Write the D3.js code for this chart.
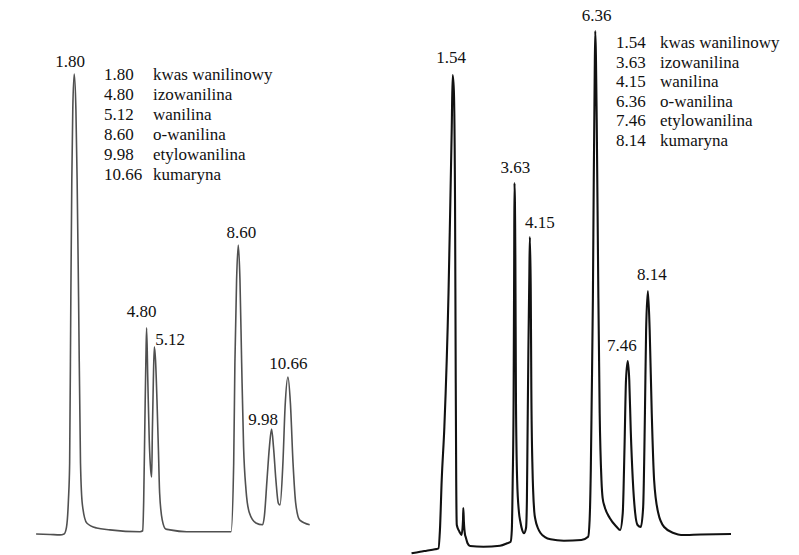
<!DOCTYPE html>
<html>
<head>
<meta charset="utf-8">
<script src="https://cdn.jsdelivr.net/npm/d3@7/dist/d3.min.js"></script>
<style>
  html, body { margin: 0; padding: 0; background: #fff; }
  svg { display: block; }
</style>
</head>
<body>
<svg id="chart" width="799" height="555"></svg>
<script>
// Chromatogram A: retention times (min) and compound names
const peakTimesA = [1.80, 4.80, 5.12, 8.60, 9.98, 10.66];
const compoundsA = ["kwas wanilinowy", "izowanilina", "wanilina", "o-wanilina", "etylowanilina", "kumaryna"];

// Chromatogram A: detector trace, time (min) and relative signal
const traceTimeA = [0.22, 0.80, 1.21, 1.38, 1.48, 1.56, 1.61, 1.66, 1.70, 1.74, 1.80, 1.87, 1.92, 1.98, 2.06, 2.14, 2.32, 2.73, 3.28, 4.53,
  4.64, 4.68, 4.73, 4.77, 4.80, 4.85, 4.91, 4.97, 5.01, 5.04, 5.08, 5.12, 5.17, 5.23, 5.29, 5.34, 5.45, 5.59, 5.77, 6.46, 7.55,
  8.30, 8.41, 8.46, 8.53, 8.60, 8.67, 8.74, 8.82, 8.92, 9.06, 9.33, 9.61, 9.68, 9.79, 9.89, 9.98, 10.06, 10.16, 10.26, 10.33,
  10.45, 10.54, 10.66, 10.76, 10.87, 10.98, 11.15, 11.56];
const traceSignalA = [0, -0.1, -0.2, 0, 1.5, 7.4, 15.4, 51.5, 77.0, 92.2, 100, 92.2, 77.0, 51.5, 15.4, 6.3, 2.4, 1.3, 0.9, 0.5,
  0.7, 7.4, 24.8, 37.8, 44.8, 33.5, 20.4, 13.9, 12.4, 22.6, 33.5, 40.7, 37.8, 29.1, 18.3, 8.9, 3.0, 1.1, 0.9, 0.5, 0.5,
  0.5, 15.4, 37.2, 55.2, 62.8, 55.2, 37.2, 18.9, 9.6, 4.6, 2.4, 2.0, 3.8, 11.7, 18.9, 22.8, 18.9, 11.7, 6.7, 6.3,
  15.4, 27.6, 34.1, 28.5, 15.4, 6.7, 3.0, 2.0];

// Chromatogram B: retention times (min) and compound names
const peakTimesB = [1.54, 3.63, 4.15, 6.36, 7.46, 8.14];
const compoundsB = ["kwas wanilinowy", "izowanilina", "wanilina", "o-wanilina", "etylowanilina", "kumaryna"];

// Chromatogram B: detector trace, time (min) and relative signal
const traceTimeB = [0.15, 0.44, 0.66, 0.94, 1.06, 1.11, 1.17, 1.26, 1.40, 1.45, 1.51, 1.54, 1.58, 1.62, 1.64, 1.66, 1.68,
  1.77, 1.84, 1.89, 1.90, 1.92, 1.96, 1.98, 2.04, 2.13, 2.58, 3.14, 3.38, 3.50,
  3.54, 3.57, 3.60, 3.62, 3.63, 3.66, 3.68, 3.72, 3.78, 3.83, 3.89, 3.95,
  4.02, 4.05, 4.07, 4.10, 4.13, 4.15, 4.18, 4.20, 4.24, 4.26, 4.30, 4.34, 4.42, 4.51, 4.66, 4.85, 5.30, 5.89,
  6.12, 6.17, 6.21, 6.24, 6.28, 6.31, 6.34, 6.36, 6.41, 6.46, 6.51, 6.57, 6.61, 6.68, 6.85, 7.08,
  7.20, 7.29, 7.35, 7.40, 7.46, 7.51, 7.56, 7.63, 7.71, 7.79, 7.90,
  7.98, 8.04, 8.08, 8.14, 8.20, 8.27, 8.35, 8.49, 8.69, 9.03, 9.26, 9.93, 10.95];
const traceSignalB = [-0.64, -0.33, -0.13, 0.13, 0.33, 3.85, 13.49, 23.76, 49.52, 63.58, 81.56, 91.52, 88.63, 67.44, 38.54, 13.49, 4.82,
  3.53, 2.89, 5.78, 8.09, 5.39, 2.89, 2.50, 1.35, 0.77, 0.64, 0.83, 1.29, 1.60,
  3.85, 13.49, 28.90, 55.88, 70.71, 55.88, 28.90, 13.49, 7.32, 5.39, 3.85, 3.22,
  4.24, 9.63, 21.19, 38.54, 52.02, 60.31, 50.10, 30.83, 15.41, 11.56, 7.32, 5.78, 4.24, 3.28, 2.50, 2.06, 1.79, 1.93,
  2.56, 5.78, 15.41, 28.90, 48.17, 71.29, 90.56, 100, 82.85, 52.02, 26.40, 13.49, 10.02, 8.29, 6.17, 4.49,
  3.85, 7.13, 19.85, 32.76, 36.42, 32.76, 23.12, 13.49, 7.13, 4.82, 4.43,
  8.29, 26.40, 42.39, 49.90, 42.39, 26.40, 13.49, 7.13, 4.43, 3.22, 2.89, 2.99, 3.08];

const FONT = "'Liberation Serif', 'Times New Roman', 'DejaVu Serif', serif";
const svg = d3.select("#chart");

function drawPanel(cfg) {
  const x = d3.scaleLinear().domain(cfg.timeDomain).range(cfg.xRange);
  const y = d3.scaleLinear().domain([0, 100]).range(cfg.yRange);
  const g = svg.append("g");

  const points = cfg.times.map((t, i) => [t, cfg.signal[i]]);
  const line = d3.line()
    .x(d => x(d[0]))
    .y(d => y(d[1]))
    .curve(d3.curveMonotoneX);

  g.append("path")
    .datum(points)
    .attr("d", line)
    .attr("fill", "none")
    .attr("stroke", cfg.stroke)
    .attr("stroke-width", cfg.strokeWidth)
    .attr("stroke-linejoin", "round");

  // retention time labels above each peak
  const apexSignal = t => cfg.signal[cfg.times.indexOf(t)];
  g.selectAll("text.peak")
    .data(cfg.peaks)
    .join("text")
    .attr("class", "peak")
    .attr("x", (t, i) => x(t) + cfg.labelOffsets[i][0])
    .attr("y", (t, i) => y(apexSignal(t)) + cfg.labelOffsets[i][1])
    .attr("text-anchor", (t, i) => cfg.labelOffsets[i][2])
    .attr("font-family", FONT)
    .attr("font-size", 17)
    .attr("fill", "#111")
    .text(t => t.toFixed(2));

  // legend: retention time and compound name
  const legend = g.append("g").attr("transform", `translate(${cfg.legendX},${cfg.legendY})`);
  cfg.peaks.forEach((t, i) => {
    legend.append("text")
      .attr("x", 0).attr("y", i * cfg.legendStep)
      .attr("font-family", FONT)
      .attr("font-size", 17)
      .attr("fill", "#111")
      .text(t.toFixed(2));
    legend.append("text")
      .attr("x", cfg.nameX).attr("y", i * cfg.legendStep)
      .attr("font-family", FONT)
      .attr("font-size", 17)
      .attr("fill", "#111")
      .text(cfg.names[i]);
  });
}

drawPanel({
  times: traceTimeA, signal: traceSignalA, peaks: peakTimesA, names: compoundsA,
  timeDomain: [0, 12], xRange: [30.8, 320.3], yRange: [534, 74],
  stroke: "#505050", strokeWidth: 1.6,
  labelOffsets: [[-4, -7, "middle"], [-5, -11, "middle"], [1, -2, "start"],
                 [3, -7, "middle"], [6.5, -4, "end"], [0.5, -8, "middle"]],
  legendX: 104, legendY: 80, legendStep: 20, nameX: 49
});

drawPanel({
  times: traceTimeB, signal: traceSignalB, peaks: peakTimesB, names: compoundsB,
  timeDomain: [0, 11], xRange: [407.1, 732.5], yRange: [550, 31],
  stroke: "#111", strokeWidth: 2.1,
  labelOffsets: [[-1.5, -12.5, "middle"], [1, -10.5, "middle"], [10, -9, "middle"],
                 [1.5, -10, "middle"], [-6, -10, "middle"], [4, -11, "middle"]],
  legendX: 616, legendY: 48, legendStep: 19.5, nameX: 44
});
</script>
</body>
</html>
